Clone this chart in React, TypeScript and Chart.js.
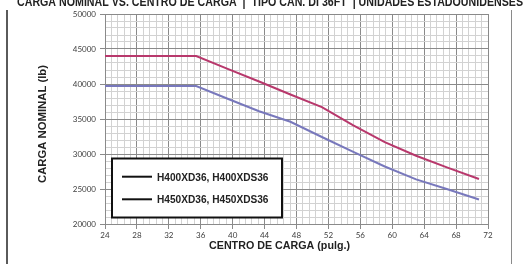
import { useEffect, useRef } from 'react';
import { Chart, registerables } from 'chart.js';

Chart.register(...registerables);

// Load centre (in.) — data points at 100 mm intervals
const loadCentersIn = [24, 35.43, 39.37, 43.31, 47.24, 51.18, 55.12, 59.06, 62.99, 66.93, 70.87];
// Rated capacity (lb)
const h400Capacity = [39700, 39700, 37900, 36100, 34600, 32430, 30300, 28220, 26380, 24970, 23500];
const h450Capacity = [44000, 44000, 42150, 40350, 38500, 36700, 34100, 31700, 29750, 28050, 26420];

const seriesLabels = ['H400XD36, H400XDS36', 'H450XD36, H450XDS36'];
const xTickLabels = [24, 28, 32, 36, 40, 44, 48, 52, 56, 60, 64, 68, 72];
const yTickLabels = [20000, 25000, 30000, 35000, 40000, 45000, 50000];

const chartTitle = 'CARGA NOMINAL VS. CENTRO DE CARGA  |  TIPO CAN. DI 36FT  | UNIDADES ESTADOUNIDENSES';
const xTitle = 'CENTRO DE CARGA (pulg.)';
const yTitle = 'CARGA NOMINAL (lb)';

const MAJOR = '#8a8a8a';
const MINOR = '#d2d2d2';
const H400_COLOR = '#7878bc';
const H450_COLOR = '#b8386c';
const BOLD_FONT = "bold 12px 'Liberation Sans Narrow', 'Liberation Sans', Arial, sans-serif";
const LEGEND_FONT = "bold 11px 'Liberation Sans Narrow', 'Liberation Sans', Arial, sans-serif";

const isIn = (v: number, list: number[]) => list.some((t) => Math.abs(t - v) < 1e-6);

function fitText(
  ctx: CanvasRenderingContext2D,
  text: string,
  x: number,
  y: number,
  width: number,
  font: string,
  align: CanvasTextAlign,
  rotate = 0
) {
  ctx.save();
  ctx.font = font;
  const w = ctx.measureText(text).width;
  ctx.translate(x, y);
  if (rotate) ctx.rotate(rotate);
  ctx.scale(width / w, 1);
  ctx.textAlign = align;
  ctx.textBaseline = 'alphabetic';
  ctx.fillStyle = '#222222';
  ctx.fillText(text, 0, 0);
  ctx.restore();
}

const decorPlugin = {
  id: 'decor',
  afterDraw(chart: any) {
    const ctx: CanvasRenderingContext2D = chart.ctx;
    // frame lines
    ctx.save();
    ctx.strokeStyle = '#5a5a5a';
    ctx.lineWidth = 2;
    ctx.beginPath();
    ctx.moveTo(7, 10);
    ctx.lineTo(7, 264);
    ctx.stroke();
    ctx.strokeStyle = '#8a8a8a';
    ctx.lineWidth = 1;
    ctx.beginPath();
    ctx.moveTo(511.5, 10);
    ctx.lineTo(511.5, 264);
    ctx.stroke();
    ctx.restore();

    // title (top clipped)
    fitText(ctx, chartTitle, 270, 6, 506, BOLD_FONT, 'center');
    // axis titles
    fitText(ctx, xTitle, 279.5, 248.7, 141, "bold 11.5px 'Liberation Sans Narrow', 'Liberation Sans', Arial, sans-serif", 'center');
    fitText(ctx, yTitle, 45.8, 124, 118, "bold 11.5px 'Liberation Sans Narrow', 'Liberation Sans', Arial, sans-serif", 'center', -Math.PI / 2);

    // legend box
    ctx.save();
    ctx.fillStyle = '#ffffff';
    ctx.fillRect(112, 158.5, 170, 59);
    ctx.strokeStyle = '#111111';
    ctx.lineWidth = 2;
    ctx.strokeRect(112, 158.5, 170, 59);
    const rows = [176.7, 199.3];
    seriesLabels.forEach((label, i) => {
      ctx.strokeStyle = '#111111';
      ctx.lineWidth = 2;
      ctx.beginPath();
      ctx.moveTo(122, rows[i]);
      ctx.lineTo(152, rows[i]);
      ctx.stroke();
      fitText(ctx, label, 157, rows[i] + 4, 111.5, LEGEND_FONT, 'left');
    });
    ctx.restore();
  },
};

export default function App() {
  const ref = useRef<HTMLCanvasElement | null>(null);

  useEffect(() => {
    if (!ref.current) return;
    const tickFont = { family: "Lato, 'Noto Sans', sans-serif", size: 8 };
    const chart = new Chart(ref.current, {
      type: 'line',
      data: {
        datasets: [
          {
            label: seriesLabels[0],
            data: loadCentersIn.map((x, i) => ({ x, y: h400Capacity[i] })),
            borderColor: H400_COLOR,
            borderWidth: 2,
            pointRadius: 0,
            tension: 0,
            fill: false,
          },
          {
            label: seriesLabels[1],
            data: loadCentersIn.map((x, i) => ({ x, y: h450Capacity[i] })),
            borderColor: H450_COLOR,
            borderWidth: 2,
            pointRadius: 0,
            tension: 0,
            fill: false,
          },
        ],
      },
      options: {
        animation: false,
        responsive: false,
        maintainAspectRatio: false,
        layout: { padding: { top: 14, right: 39, left: 0, bottom: 0 } },
        plugins: {
          legend: { display: false },
          title: { display: false },
          tooltip: { enabled: false },
        },
        scales: {
          x: {
            type: 'linear',
            min: 24,
            max: 72,
            ticks: {
              stepSize: 0.8,
              autoSkip: false,
              maxRotation: 0,
              minRotation: 0,
              padding: 2,
              color: '#404040',
              font: tickFont,
              callback: (v: any) => (isIn(Number(v), xTickLabels) ? String(Math.round(Number(v))) : ''),
            },
            grid: {
              color: (c: any) => (isIn(c.tick.value, xTickLabels) ? MAJOR : MINOR),
              tickColor: (c: any) => (isIn(c.tick.value, xTickLabels) ? MAJOR : 'rgba(0,0,0,0)'),
              tickLength: 5,
              lineWidth: 1,
            },
            border: { color: MAJOR },
            afterFit: (s: any) => {
              s.height = 40;
            },
          },
          y: {
            type: 'linear',
            min: 20000,
            max: 50000,
            ticks: {
              stepSize: 1000,
              autoSkip: false,
              padding: 4,
              color: '#404040',
              font: tickFont,
              callback: (v: any) => (isIn(Number(v), yTickLabels) ? String(v) : ''),
            },
            grid: {
              color: (c: any) => (isIn(c.tick.value, yTickLabels) ? MAJOR : MINOR),
              tickColor: (c: any) => (isIn(c.tick.value, yTickLabels) ? MAJOR : 'rgba(0,0,0,0)'),
              tickLength: 5,
              lineWidth: 1,
            },
            border: { color: MAJOR },
            afterFit: (s: any) => {
              s.width = 105;
            },
          },
        },
      },
      plugins: [decorPlugin],
    } as any);
    return () => chart.destroy();
  }, []);

  return (
    <div style={{ position: 'fixed', left: 0, top: 0, width: 527, height: 264, background: '#fff' }}>
      <canvas ref={ref} width={527} height={264} style={{ display: 'block', width: 527, height: 264 }} />
    </div>
  );
}
